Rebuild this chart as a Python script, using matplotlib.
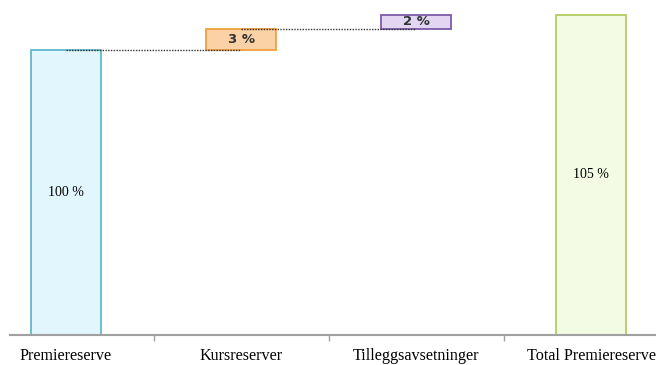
import numpy as np
import matplotlib.pyplot as plt

categories = ["Premiereserve", "Kursreserver", "Tilleggsavsetninger", "Total Premiereserve"]
values = [100, 3, 2, 105]
labels = ["100 %", "3 %", "2 %", "105 %"]
is_total = [True, False, False, True]

fills = ["#e2f7fd", "#fbd2a6", "#e3d6f3", "#f3fbe4"]
edges = ["#62b9c9", "#efa13f", "#7d5aa8", "#b3cc66"]

# waterfall bottoms: totals start at the axis, steps stack on the running sum
bottoms = []
running = 0
for v, tot in zip(values, is_total):
    if tot:
        bottoms.append(0)
        running = v
    else:
        bottoms.append(running)
        running += v

x = np.arange(len(categories))

fig = plt.figure(figsize=(6.56, 3.65), dpi=100)
ax = fig.add_axes([10 / 656, 30 / 365, 646 / 656, 335 / 365])

ax.bar(x, values, bottom=bottoms, width=0.4, color=fills, edgecolor=edges,
       linewidth=1.3, zorder=2)

# dotted connectors from the top of one step to the next
for i in range(len(values) - 2):
    level = bottoms[i] + values[i]
    ax.plot([x[i], x[i + 1]], [level, level], linestyle=(0, (1, 1)),
            color="#333333", linewidth=1.0, zorder=3)

for i, (v, b, lab) in enumerate(zip(values, bottoms, labels)):
    if is_total[i]:
        ax.text(x[i], 59.3 + (b + v - 59.3) / 2, lab, ha="center", va="center",
                fontsize=10, family="Liberation Serif", zorder=4)
    else:
        ax.text(x[i], b + v / 2, lab, ha="center", va="center",
                fontsize=9.5, fontweight="bold", color="#333333",
                family="DejaVu Sans", zorder=4)

ax.set_xlim(-0.32, 3.371)
ax.set_ylim(59.3, 107.1)

for side in ["top", "right", "left"]:
    ax.spines[side].set_visible(False)
ax.spines["bottom"].set_color("#a0a0a0")
ax.spines["bottom"].set_linewidth(1.5)

ax.set_yticks([])
ax.set_xticks(x)
ax.set_xticklabels(categories, family="Liberation Serif", fontsize=11.6)
ax.tick_params(axis="x", which="major", length=0, pad=9)
ax.set_xticks(x[:-1] + 0.5, minor=True)
ax.tick_params(axis="x", which="minor", length=4, width=1, color="#a0a0a0",
               direction="out")

fig.savefig("out.png", dpi=100)
